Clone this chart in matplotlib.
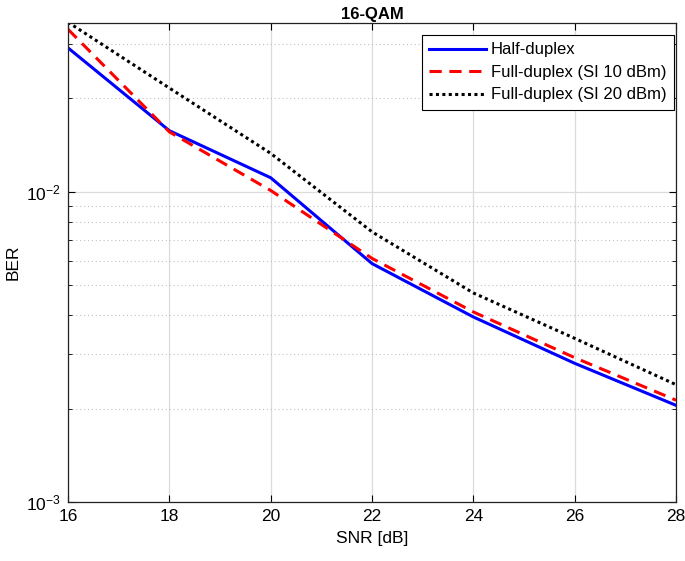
import numpy as np
import matplotlib.pyplot as plt
from matplotlib.ticker import LogLocator, FuncFormatter, NullFormatter

plt.rcParams['font.family'] = ['Liberation Sans', 'DejaVu Sans']

# Data
snr = [16, 18, 20, 22, 24, 26, 28]
ber_half = [0.0291, 0.01574, 0.0111, 0.00587, 0.00395, 0.0028, 0.00205]
ber_si10 = [0.0334, 0.0156, 0.0101, 0.0061, 0.0041, 0.00292, 0.00213]
ber_si20 = [0.0352, 0.0216, 0.0133, 0.00743, 0.00472, 0.00337, 0.00239]
labels = ["Half-duplex", "Full-duplex (SI 10 dBm)", "Full-duplex (SI 20 dBm)"]

fig = plt.figure(figsize=(6.85, 5.61), dpi=100)
ax = fig.add_axes([0.0993, 0.105, 0.8877, 0.854])

ax.semilogy(snr, ber_half, color='blue', lw=2.2, label=labels[0])
ax.semilogy(snr, ber_si10, color='red', lw=2.2, dashes=(4, 2.5), label=labels[1])
ax.semilogy(snr, ber_si20, color='black', lw=2.2, dashes=(1, 1.1), label=labels[2])

ax.set_xlim(16, 28)
ax.set_ylim(1e-3, 0.035)
ax.set_xticks(range(16, 29, 2))
ax.yaxis.set_major_locator(LogLocator(base=10, numticks=10))
ax.yaxis.set_minor_locator(LogLocator(base=10, subs=np.arange(2, 10), numticks=20))
ax.yaxis.set_major_formatter(FuncFormatter(
    lambda v, p: r'$\mathregular{10^{%d}}$' % int(round(np.log10(v)))))
ax.yaxis.set_minor_formatter(NullFormatter())

ax.grid(True, which='major', color='#dcdcdc', lw=0.9, ls='-')
ax.grid(True, which='minor', axis='y', color='#c0c0c0', lw=0.8, ls=(0, (1, 2.5)))
ax.set_axisbelow(True)

ax.tick_params(which='both', direction='in', top=True, right=True, labelsize=12.5)
ax.tick_params(which='major', length=5, width=0.8, pad=5)
ax.tick_params(which='minor', length=3, width=0.6)
for s in ax.spines.values():
    s.set_linewidth(0.9)
    s.set_color('#222222')

ax.set_xlabel("SNR [dB]", fontsize=12.5, labelpad=5)
ax.set_ylabel("BER", fontsize=12.5)
ax.set_title("16-QAM", fontsize=12, fontweight='bold', pad=3)

leg = ax.legend(loc='upper right', bbox_to_anchor=(0.9967, 0.975), fontsize=12,
                fancybox=False, framealpha=1, edgecolor='black',
                handlelength=3.4, borderaxespad=0, labelspacing=0.45,
                handletextpad=0.3, borderpad=0.45)
leg.get_frame().set_linewidth(0.8)

fig.savefig("out.png", dpi=100)
